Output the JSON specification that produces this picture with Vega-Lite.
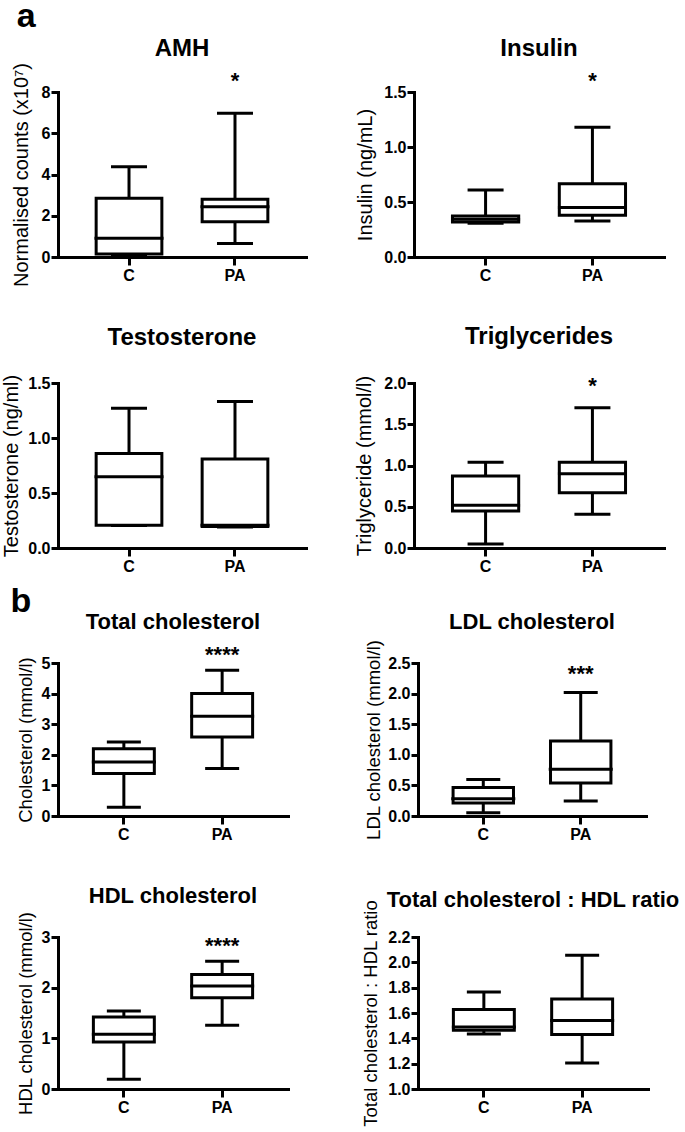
{
  "$schema": "https://vega.github.io/schema/vega-lite/v6.json",
  "padding": {"left": 1, "top": 0, "right": 0, "bottom": 0},
  "autosize": {"type": "pad"},
  "datasets": {
    "stats": [
      {"panel": "AMH", "group": "C", "min": 0.12, "q1": 0.15, "median": 0.91, "q3": 2.85, "max": 4.38, "sig": "", "sig_y": null},
      {"panel": "AMH", "group": "PA", "min": 0.66, "q1": 1.71, "median": 2.44, "q3": 2.8, "max": 6.97, "sig": "*", "sig_y": 8.68},
      {"panel": "Insulin", "group": "C", "min": 0.306, "q1": 0.318, "median": 0.343, "q3": 0.373, "max": 0.61, "sig": "", "sig_y": null},
      {"panel": "Insulin", "group": "PA", "min": 0.327, "q1": 0.379, "median": 0.449, "q3": 0.667, "max": 1.18, "sig": "*", "sig_y": 1.627},
      {"panel": "Testosterone", "group": "C", "min": 0.205, "q1": 0.207, "median": 0.648, "q3": 0.86, "max": 1.27, "sig": "", "sig_y": null},
      {"panel": "Testosterone", "group": "PA", "min": 0.19, "q1": 0.195, "median": 0.207, "q3": 0.81, "max": 1.332, "sig": "", "sig_y": null},
      {"panel": "Triglycerides", "group": "C", "min": 0.05, "q1": 0.45, "median": 0.518, "q3": 0.873, "max": 1.04, "sig": "", "sig_y": null},
      {"panel": "Triglycerides", "group": "PA", "min": 0.41, "q1": 0.67, "median": 0.9, "q3": 1.04, "max": 1.7, "sig": "*", "sig_y": 2.0},
      {"panel": "Total cholesterol", "group": "C", "min": 0.29, "q1": 1.385, "median": 1.765, "q3": 2.2, "max": 2.42, "sig": "", "sig_y": null},
      {"panel": "Total cholesterol", "group": "PA", "min": 1.55, "q1": 2.58, "median": 3.26, "q3": 4.0, "max": 4.76, "sig": "****", "sig_y": 5.36},
      {"panel": "LDL cholesterol", "group": "C", "min": 0.055, "q1": 0.212, "median": 0.28, "q3": 0.464, "max": 0.595, "sig": "", "sig_y": null},
      {"panel": "LDL cholesterol", "group": "PA", "min": 0.245, "q1": 0.54, "median": 0.763, "q3": 1.225, "max": 2.02, "sig": "***", "sig_y": 2.37},
      {"panel": "HDL cholesterol", "group": "C", "min": 0.19, "q1": 0.93, "median": 1.083, "q3": 1.42, "max": 1.54, "sig": "", "sig_y": null},
      {"panel": "HDL cholesterol", "group": "PA", "min": 1.26, "q1": 1.8, "median": 2.035, "q3": 2.26, "max": 2.52, "sig": "****", "sig_y": 2.89},
      {"panel": "Ratio", "group": "C", "min": 1.434, "q1": 1.463, "median": 1.49, "q3": 1.627, "max": 1.766, "sig": "", "sig_y": null},
      {"panel": "Ratio", "group": "PA", "min": 1.205, "q1": 1.43, "median": 1.54, "q3": 1.71, "max": 2.055, "sig": "", "sig_y": null}
    ]
  },
  "data": {"name": "stats"},
  "bounds": "flush",
  "spacing": 571,
  "vconcat": [
    {
      "title": {"text": "a", "fontSize": 34, "anchor": "start", "frame": "bounds", "dx": 15.5, "offset": 2.5},
      "columns": 2,
      "bounds": "flush",
      "align": "all",
      "spacing": {"row": 126, "column": 106},
      "concat": [
        {
          "width": 248, "height": 165,
          "title": {"text": "AMH", "fontSize": 24, "offset": 2},
          "transform": [{"filter": "datum.panel === 'AMH'"}],
          "encoding": {"x": {"field": "group", "type": "nominal", "sort": ["C", "PA"], "scale": {"paddingInner": 0, "paddingOuter": 0.17}, "title": null}},
          "layer": [
            {"mark": {"type": "rule"}, "encoding": {"y": {"field": "min", "type": "quantitative", "title": "Normalised counts (x10⁷)", "scale": {"domain": [0, 8], "nice": false}, "axis": {"values": [0, 2, 4, 6, 8], "tickCount": 20, "format": "d", "labelOverlap": false, "titleFontSize": 20, "titlePadding": 9.3}}, "y2": {"field": "max"}}},
            {"mark": {"type": "bar", "fill": "white", "stroke": "black", "strokeWidth": 3, "width": {"band": 0.62}}, "encoding": {"y": {"field": "q1", "type": "quantitative"}, "y2": {"field": "q3"}}},
            {"mark": {"type": "tick", "size": 69}, "encoding": {"y": {"field": "median", "type": "quantitative"}}},
            {"mark": {"type": "tick", "size": 36}, "encoding": {"y": {"field": "min", "type": "quantitative"}}},
            {"mark": {"type": "tick", "size": 36}, "encoding": {"y": {"field": "max", "type": "quantitative"}}},
            {"transform": [{"filter": "datum.sig"}], "mark": {"type": "text", "fontSize": 22, "baseline": "middle", "dy": 3}, "encoding": {"y": {"field": "sig_y", "type": "quantitative"}, "text": {"field": "sig"}}}
          ]
        },
        {
          "width": 250, "height": 165,
          "title": {"text": "Insulin", "fontSize": 24, "offset": 9},
          "transform": [{"filter": "datum.panel === 'Insulin'"}],
          "encoding": {"x": {"field": "group", "type": "nominal", "sort": ["C", "PA"], "scale": {"paddingInner": 0, "paddingOuter": 0.17}, "title": null}},
          "layer": [
            {"mark": {"type": "rule"}, "encoding": {"y": {"field": "min", "type": "quantitative", "title": "Insulin (ng/mL)", "scale": {"domain": [0, 1.5], "nice": false}, "axis": {"values": [0, 0.5, 1, 1.5], "tickCount": 20, "format": ".1f", "labelOverlap": false, "titleFontSize": 20, "titlePadding": 8.4}}, "y2": {"field": "max"}}},
            {"mark": {"type": "bar", "fill": "white", "stroke": "black", "strokeWidth": 3, "width": {"band": 0.62}}, "encoding": {"y": {"field": "q1", "type": "quantitative"}, "y2": {"field": "q3"}}},
            {"mark": {"type": "tick", "size": 69}, "encoding": {"y": {"field": "median", "type": "quantitative"}}},
            {"mark": {"type": "tick", "size": 36}, "encoding": {"y": {"field": "min", "type": "quantitative"}}},
            {"mark": {"type": "tick", "size": 36}, "encoding": {"y": {"field": "max", "type": "quantitative"}}},
            {"transform": [{"filter": "datum.sig"}], "mark": {"type": "text", "fontSize": 22, "baseline": "middle", "dy": 3}, "encoding": {"y": {"field": "sig_y", "type": "quantitative"}, "text": {"field": "sig"}}}
          ]
        },
        {
          "width": 248, "height": 165,
          "title": {"text": "Testosterone", "fontSize": 24, "offset": 24},
          "transform": [{"filter": "datum.panel === 'Testosterone'"}],
          "encoding": {"x": {"field": "group", "type": "nominal", "sort": ["C", "PA"], "scale": {"paddingInner": 0, "paddingOuter": 0.17}, "title": null}},
          "layer": [
            {"mark": {"type": "rule"}, "encoding": {"y": {"field": "min", "type": "quantitative", "title": "Testosterone (ng/ml)", "scale": {"domain": [0, 1.5], "nice": false}, "axis": {"values": [0, 0.5, 1, 1.5], "tickCount": 20, "format": ".1f", "labelOverlap": false, "titleFontSize": 20, "titlePadding": 6.4}}, "y2": {"field": "max"}}},
            {"mark": {"type": "bar", "fill": "white", "stroke": "black", "strokeWidth": 3, "width": {"band": 0.62}}, "encoding": {"y": {"field": "q1", "type": "quantitative"}, "y2": {"field": "q3"}}},
            {"mark": {"type": "tick", "size": 69}, "encoding": {"y": {"field": "median", "type": "quantitative"}}},
            {"mark": {"type": "tick", "size": 36}, "encoding": {"y": {"field": "min", "type": "quantitative"}}},
            {"mark": {"type": "tick", "size": 36}, "encoding": {"y": {"field": "max", "type": "quantitative"}}}
          ]
        },
        {
          "width": 250, "height": 165,
          "title": {"text": "Triglycerides", "fontSize": 24, "offset": 26},
          "transform": [{"filter": "datum.panel === 'Triglycerides'"}],
          "encoding": {"x": {"field": "group", "type": "nominal", "sort": ["C", "PA"], "scale": {"paddingInner": 0, "paddingOuter": 0.17}, "title": null}},
          "layer": [
            {"mark": {"type": "rule"}, "encoding": {"y": {"field": "min", "type": "quantitative", "title": "Triglyceride (mmol/l)", "scale": {"domain": [0, 2], "nice": false}, "axis": {"values": [0, 0.5, 1, 1.5, 2], "tickCount": 20, "format": ".1f", "labelOverlap": false, "titleFontSize": 20, "titlePadding": 9.3}}, "y2": {"field": "max"}}},
            {"mark": {"type": "bar", "fill": "white", "stroke": "black", "strokeWidth": 3, "width": {"band": 0.62}}, "encoding": {"y": {"field": "q1", "type": "quantitative"}, "y2": {"field": "q3"}}},
            {"mark": {"type": "tick", "size": 69}, "encoding": {"y": {"field": "median", "type": "quantitative"}}},
            {"mark": {"type": "tick", "size": 36}, "encoding": {"y": {"field": "min", "type": "quantitative"}}},
            {"mark": {"type": "tick", "size": 36}, "encoding": {"y": {"field": "max", "type": "quantitative"}}},
            {"transform": [{"filter": "datum.sig"}], "mark": {"type": "text", "fontSize": 22, "baseline": "middle", "dy": 3}, "encoding": {"y": {"field": "sig_y", "type": "quantitative"}, "text": {"field": "sig"}}}
          ]
        }
      ]
    },
    {
      "title": {"text": "b", "fontSize": 34, "anchor": "start", "frame": "bounds", "dx": -5.6, "offset": -8},
      "columns": 2,
      "bounds": "flush",
      "align": "all",
      "spacing": {"row": 121, "column": 130},
      "concat": [
        {
          "width": 230, "height": 153,
          "title": {"text": "Total cholesterol", "fontSize": 22, "offset": 10},
          "transform": [{"filter": "datum.panel === 'Total cholesterol'"}],
          "encoding": {"x": {"field": "group", "type": "nominal", "sort": ["C", "PA"], "scale": {"paddingInner": 0, "paddingOuter": 0.17}, "title": null}},
          "layer": [
            {"mark": {"type": "rule"}, "encoding": {"y": {"field": "min", "type": "quantitative", "title": "Cholesterol (mmol/l)", "scale": {"domain": [0, 5], "nice": false}, "axis": {"values": [0, 1, 2, 3, 4, 5], "tickCount": 20, "format": "d", "labelOverlap": false, "titleFontSize": 18.5, "titlePadding": 6}}, "y2": {"field": "max"}}},
            {"mark": {"type": "bar", "fill": "white", "stroke": "black", "strokeWidth": 3, "width": {"band": 0.62}}, "encoding": {"y": {"field": "q1", "type": "quantitative"}, "y2": {"field": "q3"}}},
            {"mark": {"type": "tick", "size": 64}, "encoding": {"y": {"field": "median", "type": "quantitative"}}},
            {"mark": {"type": "tick", "size": 34}, "encoding": {"y": {"field": "min", "type": "quantitative"}}},
            {"mark": {"type": "tick", "size": 34}, "encoding": {"y": {"field": "max", "type": "quantitative"}}},
            {"transform": [{"filter": "datum.sig"}], "mark": {"type": "text", "fontSize": 22, "baseline": "middle", "dy": 3}, "encoding": {"y": {"field": "sig_y", "type": "quantitative"}, "text": {"field": "sig"}}}
          ]
        },
        {
          "width": 228, "height": 153,
          "title": {"text": "LDL cholesterol", "fontSize": 22, "offset": 5},
          "transform": [{"filter": "datum.panel === 'LDL cholesterol'"}],
          "encoding": {"x": {"field": "group", "type": "nominal", "sort": ["C", "PA"], "scale": {"paddingInner": 0, "paddingOuter": 0.17}, "title": null}},
          "layer": [
            {"mark": {"type": "rule"}, "encoding": {"y": {"field": "min", "type": "quantitative", "title": "LDL cholesterol (mmol/l)", "scale": {"domain": [0, 2.5], "nice": false}, "axis": {"values": [0, 0.5, 1, 1.5, 2, 2.5], "tickCount": 20, "format": ".1f", "labelOverlap": false, "titleFontSize": 18.5, "titlePadding": 4.3}}, "y2": {"field": "max"}}},
            {"mark": {"type": "bar", "fill": "white", "stroke": "black", "strokeWidth": 3, "width": {"band": 0.62}}, "encoding": {"y": {"field": "q1", "type": "quantitative"}, "y2": {"field": "q3"}}},
            {"mark": {"type": "tick", "size": 64}, "encoding": {"y": {"field": "median", "type": "quantitative"}}},
            {"mark": {"type": "tick", "size": 34}, "encoding": {"y": {"field": "min", "type": "quantitative"}}},
            {"mark": {"type": "tick", "size": 34}, "encoding": {"y": {"field": "max", "type": "quantitative"}}},
            {"transform": [{"filter": "datum.sig"}], "mark": {"type": "text", "fontSize": 22, "baseline": "middle", "dy": 3}, "encoding": {"y": {"field": "sig_y", "type": "quantitative"}, "text": {"field": "sig"}}}
          ]
        },
        {
          "width": 230, "height": 152,
          "title": {"text": "HDL cholesterol", "fontSize": 22, "offset": 3},
          "transform": [{"filter": "datum.panel === 'HDL cholesterol'"}],
          "encoding": {"x": {"field": "group", "type": "nominal", "sort": ["C", "PA"], "scale": {"paddingInner": 0, "paddingOuter": 0.17}, "title": null}},
          "layer": [
            {"mark": {"type": "rule"}, "encoding": {"y": {"field": "min", "type": "quantitative", "title": "HDL cholesterol (mmol/l)", "scale": {"domain": [0, 3], "nice": false}, "axis": {"values": [0, 1, 2, 3], "tickCount": 20, "format": "d", "labelOverlap": false, "titleFontSize": 18.5, "titlePadding": 5.3}}, "y2": {"field": "max"}}},
            {"mark": {"type": "bar", "fill": "white", "stroke": "black", "strokeWidth": 3, "width": {"band": 0.62}}, "encoding": {"y": {"field": "q1", "type": "quantitative"}, "y2": {"field": "q3"}}},
            {"mark": {"type": "tick", "size": 64}, "encoding": {"y": {"field": "median", "type": "quantitative"}}},
            {"mark": {"type": "tick", "size": 34}, "encoding": {"y": {"field": "min", "type": "quantitative"}}},
            {"mark": {"type": "tick", "size": 34}, "encoding": {"y": {"field": "max", "type": "quantitative"}}},
            {"transform": [{"filter": "datum.sig"}], "mark": {"type": "text", "fontSize": 22, "baseline": "middle", "dy": 3}, "encoding": {"y": {"field": "sig_y", "type": "quantitative"}, "text": {"field": "sig"}}}
          ]
        },
        {
          "width": 230, "height": 152,
          "title": {"text": "Total cholesterol : HDL ratio", "fontSize": 22, "offset": -13},
          "transform": [{"filter": "datum.panel === 'Ratio'"}],
          "encoding": {"x": {"field": "group", "type": "nominal", "sort": ["C", "PA"], "scale": {"paddingInner": 0, "paddingOuter": 0.17}, "title": null}},
          "layer": [
            {"mark": {"type": "rule"}, "encoding": {"y": {"field": "min", "type": "quantitative", "title": "Total cholesterol : HDL ratio", "scale": {"domain": [1, 2.2], "nice": false, "zero": false}, "axis": {"values": [1, 1.2, 1.4, 1.6, 1.8, 2, 2.2], "tickCount": 20, "format": ".1f", "labelOverlap": false, "titleFontSize": 18.5, "titlePadding": 7.6}}, "y2": {"field": "max"}}},
            {"mark": {"type": "bar", "fill": "white", "stroke": "black", "strokeWidth": 3, "width": {"band": 0.62}}, "encoding": {"y": {"field": "q1", "type": "quantitative"}, "y2": {"field": "q3"}}},
            {"mark": {"type": "tick", "size": 64}, "encoding": {"y": {"field": "median", "type": "quantitative"}}},
            {"mark": {"type": "tick", "size": 34}, "encoding": {"y": {"field": "min", "type": "quantitative"}}},
            {"mark": {"type": "tick", "size": 34}, "encoding": {"y": {"field": "max", "type": "quantitative"}}}
          ]
        }
      ]
    }
  ],
  "config": {
    "font": "Liberation Sans",
    "view": {"stroke": null},
    "axis": {"domainColor": "#000", "domainWidth": 3, "domainCap": "square", "tickColor": "#000", "tickWidth": 3, "labelColor": "#000", "labelFontWeight": "bold", "labelFontSize": 16, "labelFont": "Liberation Sans", "labelOverlap": false, "titleColor": "#000", "titleFontWeight": "normal", "titleFont": "Liberation Sans", "grid": false},
    "axisX": {"tickSize": 8, "labelPadding": 2, "labelAngle": 0},
    "axisY": {"tickSize": 7, "labelPadding": 1},
    "title": {"font": "Liberation Sans", "fontWeight": "bold", "color": "#000", "baseline": "alphabetic"},
    "rule": {"color": "#000", "strokeWidth": 3},
    "tick": {"color": "#000", "thickness": 3, "opacity": 1},
    "text": {"color": "#000", "fontWeight": "bold", "font": "Liberation Sans"}
  }
}
